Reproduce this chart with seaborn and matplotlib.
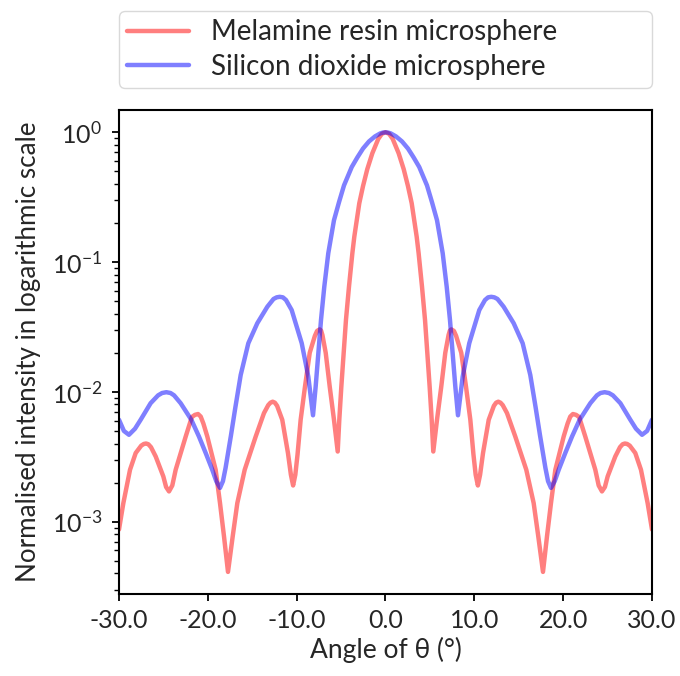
import numpy as np
import pandas as pd
import matplotlib
matplotlib.use("Agg")
import matplotlib.pyplot as plt
import seaborn as sns
from matplotlib.ticker import FormatStrFormatter, LogLocator, NullFormatter

melamine_angle = [-30.0, -29.51, -28.76, -28.12, -27.5, -27.2, -26.95, -26.7, -26.4, -25.87,
                  -25.01, -24.7, -24.37, -24.0, -23.62, -22.49, -21.8, -21.45, -21.1, -20.8,
                  -20.5, -20.06, -19.12, -18.63, -18.18, -17.73, -17.2, -16.68, -15.85, -14.61,
                  -13.68, -13.2, -12.95, -12.7, -12.45, -12.2, -11.62, -10.98, -10.65, -10.4,
                  -10.15, -9.9, -9.55, -9.06, -8.53, -7.95, -7.7, -7.41, -7.25, -7.1,
                  -6.73, -6.28, -5.8, -5.38, -5.2, -4.97, -4.71, -4.45, -4.28, -4.11,
                  -3.92, -3.73, -3.51, -3.24, -2.95, -2.53, -2.05, -1.48, -0.81, -0.4, 0.0]
melamine_int = [8.7e-4, 1.39e-3, 2.51e-3, 3.38e-3, 3.85e-3, 3.97e-3, 4.0e-3, 3.95e-3, 3.75e-3, 3.18e-3,
                2.23e-3, 1.85e-3, 1.71e-3, 1.9e-3, 2.51e-3, 4.53e-3, 6.4e-3, 6.65e-3, 6.75e-3, 6.45e-3,
                5.7e-3, 4.53e-3, 2.51e-3, 1.39e-3, 7.7e-4, 4.1e-4, 7.7e-4, 1.39e-3, 2.51e-3, 4.53e-3,
                6.86e-3, 7.9e-3, 8.25e-3, 8.4e-3, 8.25e-3, 7.8e-3, 6.09e-3, 3.38e-3, 2.3e-3, 1.9e-3,
                2.3e-3, 3.3e-3, 6.1e-3, 0.011, 0.020, 0.027, 0.0295, 0.0303, 0.0297, 0.0274,
                0.020, 0.011, 6.1e-3, 3.47e-3, 6.1e-3, 0.011, 0.020, 0.0358, 0.048, 0.0646,
                0.087, 0.117, 0.157, 0.210, 0.284, 0.385, 0.52, 0.69, 0.89, 0.975, 1.0]

silica_angle = [-30.0, -29.45, -28.88, -28.2, -27.56, -26.44, -25.6, -25.15, -24.67, -24.2,
                -23.8, -23.06, -21.86, -21.0, -20.24, -19.5, -19.05, -18.63, -18.3, -18.0,
                -17.4, -16.9, -16.3, -15.44, -14.43, -13.3, -12.6, -12.25, -11.91, -11.55,
                -11.2, -10.56, -9.43, -8.69, -8.16, -7.86, -7.56, -7.26, -6.89, -6.44,
                -5.8, -5.23, -4.67, -3.8, -3.17, -2.53, -1.86, -1.18, -0.6, -0.3, 0.0]
silica_int = [6.1e-3, 5.0e-3, 4.67e-3, 5.2e-3, 6.1e-3, 8.18e-3, 9.4e-3, 9.8e-3, 9.94e-3, 9.8e-3,
              9.4e-3, 8.18e-3, 6.1e-3, 4.53e-3, 3.38e-3, 2.51e-3, 2.05e-3, 1.82e-3, 2.05e-3, 2.6e-3,
              4.6e-3, 7.6e-3, 0.0135, 0.0237, 0.0338, 0.0453, 0.052, 0.0535, 0.054, 0.0535,
              0.051, 0.0427, 0.0237, 0.0131, 6.6e-3, 0.011, 0.0198, 0.0358, 0.0646, 0.117,
              0.210, 0.29, 0.39, 0.54, 0.64, 0.75, 0.85, 0.93, 0.98, 0.995, 1.0]

labels = ["Melamine resin microsphere", "Silicon dioxide microsphere"]


def mirror(angle, inten):
    a = np.array(angle)
    v = np.array(inten)
    return np.concatenate([a, -a[-2::-1]]), np.concatenate([v, v[-2::-1]])


frames = []
for name, ang, val in [(labels[0], melamine_angle, melamine_int), (labels[1], silica_angle, silica_int)]:
    a, v = mirror(ang, val)
    frames.append(pd.DataFrame({"angle": a, "intensity": v, "sample": name}))
df = pd.concat(frames, ignore_index=True)

sns.set_style("ticks")
plt.rcParams['font.family'] = ['Lato', 'DejaVu Sans']
plt.rcParams['mathtext.fontset'] = 'custom'
plt.rcParams['mathtext.rm'] = 'Lato'
plt.rcParams['mathtext.it'] = 'Lato:italic'

fig = plt.figure(figsize=(6.8, 6.76), dpi=100)
ax = fig.add_axes([0.175, 0.1213, 0.7838, 0.716])

sns.lineplot(data=df, x="angle", y="intensity", hue="sample", palette=["red", "blue"],
             alpha=0.5, lw=3.2, estimator=None, sort=False, legend=False, ax=ax)

ax.set_yscale("log")
ax.set_xlim(-30, 30)
ax.set_ylim(2.77e-4, 1.486)
ax.set_xticks([-30, -20, -10, 0, 10, 20, 30])
ax.xaxis.set_major_formatter(FormatStrFormatter("%.1f"))
ax.yaxis.set_major_locator(LogLocator(base=10, numticks=10))
ax.yaxis.set_minor_locator(LogLocator(base=10, subs=np.arange(2, 10), numticks=20))
ax.yaxis.set_minor_formatter(NullFormatter())
ax.tick_params(axis="both", which="major", labelsize=18, length=5, width=1.3, color="black")
ax.tick_params(axis="x", which="major", pad=6)
ax.tick_params(axis="y", which="major", pad=7)
ax.tick_params(axis="y", which="minor", length=3.5, width=1.0, color="black")
for s in ax.spines.values():
    s.set_linewidth(1.5)
    s.set_color("black")

ax.set_xlabel("Angle of θ (°)", fontsize=19, labelpad=3)
ax.set_ylabel("Normalised intensity in logarithmic scale", fontsize=18.7, labelpad=8)

handles = ax.get_lines()[:2]
fig.legend(handles, labels, loc="upper left", bbox_to_anchor=(0.175, 0.8837, 0.7838, 0.1),
           bbox_transform=fig.transFigure, mode="expand", borderaxespad=0, fontsize=20,
           handlelength=2.23, handletextpad=0.8, borderpad=0.3, labelspacing=0.3,
           frameon=True, edgecolor="#d0d0d0")

fig.savefig("out.png", dpi=100)
